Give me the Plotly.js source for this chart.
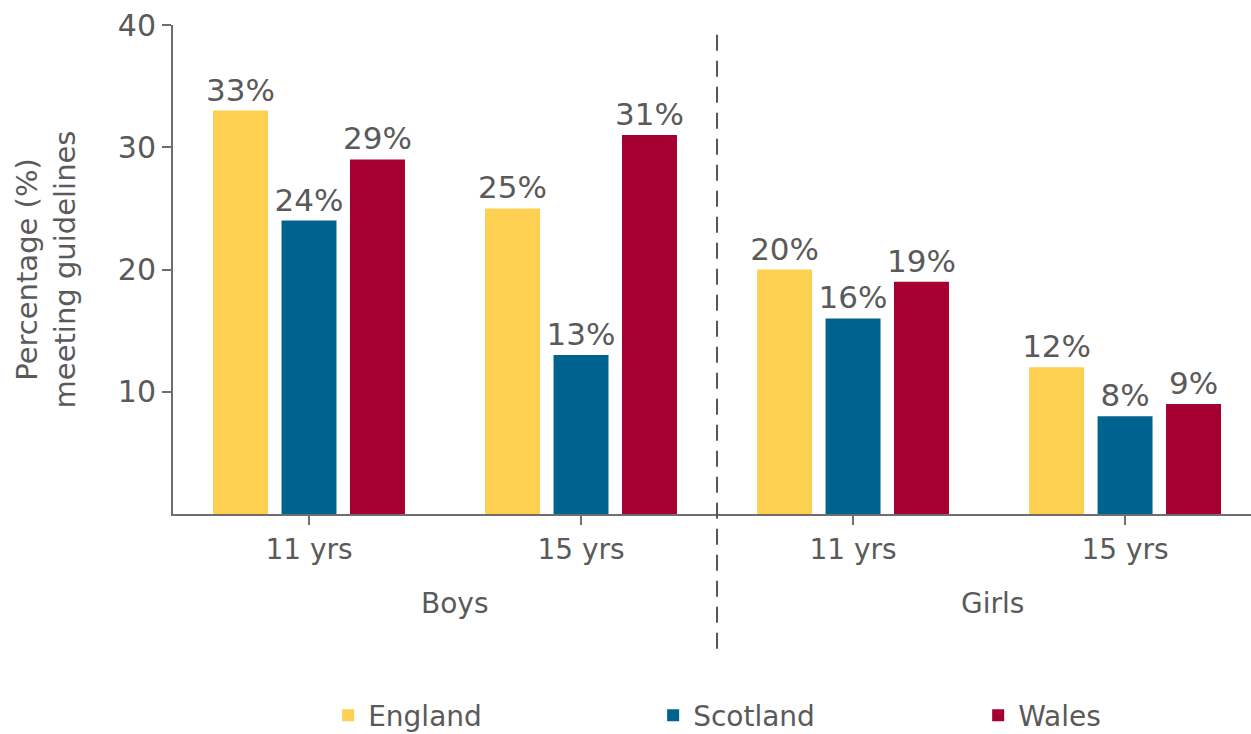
<!DOCTYPE html>
<html>
<head>
<meta charset="utf-8">
<script src="https://cdn.plot.ly/plotly-3.0.1.min.js"></script>
<style>html,body{margin:0;padding:0;background:#fff;}#chart{width:1251px;height:734px;}</style>
</head>
<body>
<div id="chart"></div>
<script>
// Data
const categories = ["Boys 11", "Boys 15", "Girls 11", "Girls 15"];
const tickLabels = ["11 yrs", "15 yrs", "11 yrs", "15 yrs"];
const groupLabels = ["Boys", "Girls"];
const seriesNames = ["England", "Scotland", "Wales"];
const england = [33, 25, 20, 12];
const scotland = [24, 13, 16, 8];
const wales = [29, 31, 19, 9];
const yTicks = [10, 20, 30, 40];

const colors = ["#FDD051", "#00628F", "#A60032"];
const textColor = "#5a5a5a";
const axisColor = "#6e6e6e";
const FONT = "DejaVu Sans, sans-serif";

const values = [england, scotland, wales];
const traces = values.map((vals, i) => ({
  type: "bar",
  name: seriesNames[i],
  x: categories,
  y: vals,
  text: vals.map(v => v + "%"),
  textposition: "outside",
  constraintext: "none",
  textangle: 0,
  textfont: {family: FONT, size: 31, color: textColor},
  cliponaxis: false,
  marker: {color: colors[i]},
  hoverinfo: "skip"
}));

const layout = {
  width: 1251,
  height: 734,
  margin: {l: 173, r: 0, t: 25, b: 220},
  paper_bgcolor: "#fff",
  plot_bgcolor: "#fff",
  font: {family: FONT, color: textColor, size: 28},
  barmode: "group",
  bargap: 0.245,
  bargroupgap: 0.197,
  showlegend: true,
  legend: {
    orientation: "h",
    xref: "container", yref: "container",
    x: 0.652, xanchor: "center",
    y: 0.025, yanchor: "middle",
    entrywidth: 280, entrywidthmode: "pixels",
    font: {family: FONT, size: 28, color: textColor},
    traceorder: "normal"
  },
  xaxis: {
    type: "category",
    range: [-0.5, 3.463],
    tickvals: categories,
    ticktext: tickLabels,
    showline: true, linecolor: axisColor, linewidth: 2,
    ticks: "outside", ticklen: 9, tickwidth: 2, tickcolor: axisColor,
    tickfont: {family: FONT, size: 28, color: textColor},
    showgrid: false, zeroline: false, fixedrange: true
  },
  yaxis: {
    range: [0, 40],
    tickvals: yTicks,
    showline: true, linecolor: axisColor, linewidth: 2,
    ticks: "outside", ticklen: 9, tickwidth: 2, tickcolor: axisColor,
    tickfont: {family: FONT, size: 30, color: textColor},
    showgrid: false, zeroline: false, fixedrange: true,
    title: {text: "Percentage (%)<br>meeting guidelines", font: {family: FONT, size: 29, color: textColor}, standoff: 34}
  },
  shapes: [{
    type: "line", xref: "x", yref: "paper",
    x0: 1.5, x1: 1.5, y0: 0.98, y1: -0.288,
    line: {color: "#555", width: 2, dash: "16px,10px"}
  }],
  annotations: groupLabels.map((g, i) => ({
    text: g, xref: "x", yref: "paper",
    x: 0.5 + 2 * i, y: -0.184, yanchor: "middle",
    xshift: i === 0 ? 10 : 3,
    showarrow: false,
    font: {family: FONT, size: 28, color: textColor}
  }))
};

Plotly.newPlot("chart", traces, layout, {displayModeBar: false, staticPlot: true});
</script>
</body>
</html>
